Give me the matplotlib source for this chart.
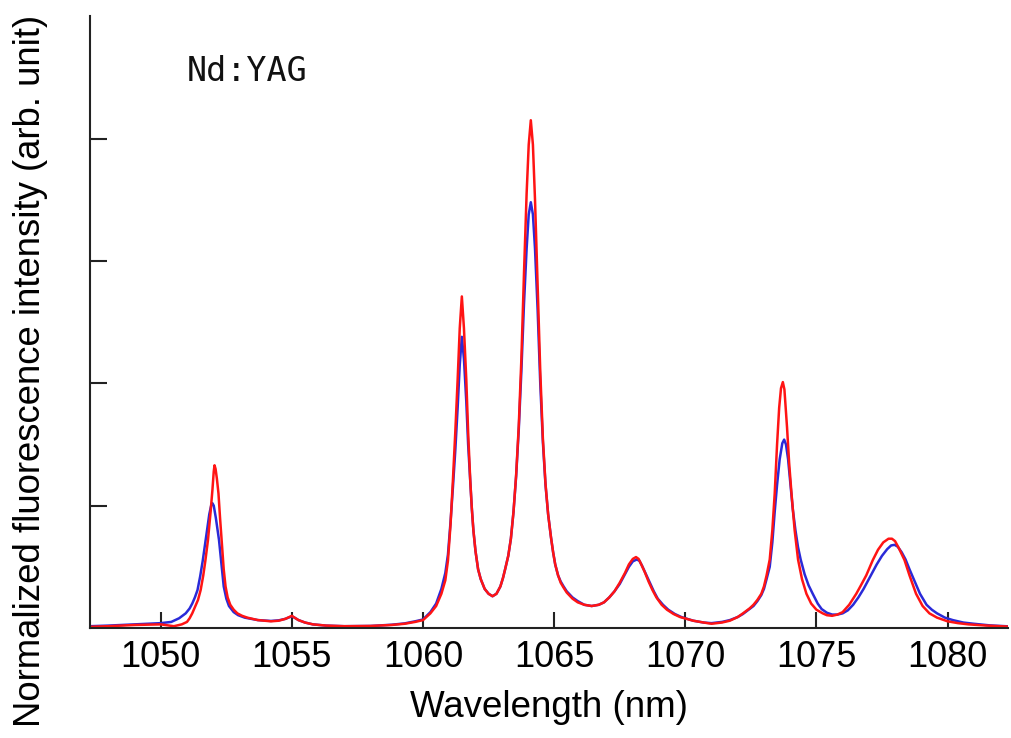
import matplotlib
matplotlib.use('Agg')
import matplotlib.pyplot as plt

# fluorescence spectra as (wavelength nm, normalized intensity)
redSpectrum = [
    (1047.3, 0.01), (1048.0, 0.015), (1049.0, 0.025), (1050.0, 0.03), (1050.5, 0.015),
    (1050.8, 0.03), (1051.0, 0.05), (1051.1, 0.08), (1051.2, 0.12), (1051.3, 0.17),
    (1051.42, 0.23), (1051.52, 0.31), (1051.62, 0.43), (1051.7, 0.55), (1051.8, 0.72),
    (1051.9, 0.95), (1051.97, 1.13), (1052.02, 1.28), (1052.05, 1.33), (1052.09, 1.3),
    (1052.14, 1.22), (1052.2, 1.1), (1052.26, 0.9), (1052.32, 0.72), (1052.4, 0.48),
    (1052.47, 0.34), (1052.55, 0.25), (1052.65, 0.19), (1052.78, 0.15), (1052.92, 0.12),
    (1053.1, 0.1), (1053.3, 0.085), (1053.7, 0.065), (1054.2, 0.055), (1054.5, 0.06),
    (1054.75, 0.075), (1054.9, 0.09), (1055.0, 0.10), (1055.1, 0.085), (1055.25, 0.065),
    (1055.5, 0.045), (1055.8, 0.03), (1056.3, 0.02), (1057.0, 0.015), (1058.0, 0.017),
    (1058.8, 0.025), (1059.3, 0.035), (1059.7, 0.05), (1060.0, 0.065), (1060.28, 0.12),
    (1060.5, 0.18), (1060.7, 0.28), (1060.85, 0.39), (1060.95, 0.55), (1061.05, 0.85),
    (1061.14, 1.21), (1061.23, 1.6), (1061.32, 2.03), (1061.4, 2.45), (1061.48, 2.71),
    (1061.56, 2.45), (1061.65, 2.03), (1061.72, 1.6), (1061.8, 1.21), (1061.86, 0.98),
    (1061.92, 0.8), (1062.0, 0.63), (1062.1, 0.48), (1062.2, 0.4), (1062.35, 0.32),
    (1062.5, 0.28), (1062.65, 0.26), (1062.8, 0.28), (1062.95, 0.34), (1063.05, 0.41),
    (1063.13, 0.48), (1063.25, 0.59), (1063.35, 0.73), (1063.45, 0.95), (1063.55, 1.25),
    (1063.65, 1.65), (1063.75, 2.2), (1063.85, 2.9), (1063.95, 3.55), (1064.03, 3.95),
    (1064.11, 4.15), (1064.19, 3.95), (1064.27, 3.5), (1064.37, 2.8), (1064.47, 2.1),
    (1064.57, 1.55), (1064.67, 1.18), (1064.77, 0.93), (1064.88, 0.74), (1064.96, 0.62),
    (1065.04, 0.52), (1065.15, 0.43), (1065.25, 0.37), (1065.36, 0.33),
    (1065.48, 0.29), (1065.7, 0.24), (1065.9, 0.21), (1066.15, 0.19), (1066.43, 0.18),
    (1066.7, 0.19), (1066.9, 0.21), (1067.1, 0.25), (1067.3, 0.3), (1067.5, 0.37),
    (1067.7, 0.45), (1067.85, 0.52), (1068.0, 0.565), (1068.12, 0.58), (1068.22, 0.565),
    (1068.3, 0.53), (1068.45, 0.46), (1068.6, 0.38), (1068.75, 0.31), (1068.9, 0.25),
    (1069.1, 0.19), (1069.3, 0.15), (1069.55, 0.115), (1069.8, 0.09), (1070.3, 0.06),
    (1070.7, 0.045), (1071.0, 0.035), (1071.4, 0.045), (1071.7, 0.06), (1072.0, 0.09),
    (1072.2, 0.12), (1072.45, 0.16), (1072.6, 0.19), (1072.75, 0.23), (1072.9, 0.28),
    (1073.0, 0.34), (1073.1, 0.43), (1073.22, 0.56), (1073.32, 0.8), (1073.41, 1.10),
    (1073.5, 1.5), (1073.58, 1.8), (1073.65, 1.96), (1073.72, 2.01), (1073.78, 1.95),
    (1073.88, 1.64), (1073.96, 1.35), (1074.05, 1.10), (1074.17, 0.8), (1074.3, 0.56),
    (1074.45, 0.4), (1074.62, 0.28), (1074.8, 0.2), (1075.0, 0.15), (1075.24, 0.12),
    (1075.4, 0.105), (1075.6, 0.10), (1075.8, 0.11), (1076.0, 0.13), (1076.25, 0.19),
    (1076.52, 0.28), (1076.7, 0.35), (1076.9, 0.43), (1077.15, 0.555), (1077.35, 0.64),
    (1077.55, 0.7), (1077.75, 0.73), (1077.88, 0.73), (1078.0, 0.71), (1078.15, 0.65),
    (1078.36, 0.555), (1078.55, 0.43), (1078.8, 0.28), (1079.05, 0.18), (1079.31, 0.12),
    (1079.6, 0.085), (1080.0, 0.055), (1080.4, 0.04), (1080.8, 0.03), (1081.5, 0.02),
    (1082.3, 0.012),
]

blueSpectrum = [
    (1047.3, 0.015), (1048.0, 0.02), (1049.0, 0.03), (1050.0, 0.04), (1050.4, 0.05),
    (1050.7, 0.08), (1050.95, 0.12), (1051.1, 0.16), (1051.2, 0.2), (1051.3, 0.25),
    (1051.4, 0.31), (1051.5, 0.42), (1051.6, 0.55), (1051.71, 0.72), (1051.79, 0.85),
    (1051.85, 0.93), (1051.92, 1.0), (1051.97, 1.02), (1052.02, 1.0), (1052.1, 0.9),
    (1052.16, 0.81), (1052.22, 0.72), (1052.3, 0.55), (1052.4, 0.34), (1052.5, 0.24),
    (1052.6, 0.18), (1052.78, 0.13), (1052.95, 0.105), (1053.2, 0.085), (1053.7, 0.065),
    (1054.2, 0.058), (1054.5, 0.063), (1054.75, 0.075), (1054.9, 0.088), (1055.0, 0.095),
    (1055.1, 0.085), (1055.25, 0.065), (1055.5, 0.045), (1055.8, 0.03), (1056.3, 0.02),
    (1057.0, 0.015), (1058.0, 0.017), (1058.8, 0.027), (1059.3, 0.038), (1059.7, 0.055),
    (1060.0, 0.07), (1060.28, 0.13), (1060.5, 0.2), (1060.7, 0.32), (1060.85, 0.45),
    (1060.95, 0.6), (1061.05, 0.87), (1061.14, 1.15), (1061.23, 1.45), (1061.32, 1.8),
    (1061.4, 2.15), (1061.48, 2.38), (1061.56, 2.2), (1061.65, 1.85), (1061.72, 1.5),
    (1061.8, 1.2), (1061.86, 0.98), (1061.92, 0.8), (1062.0, 0.63), (1062.1, 0.48),
    (1062.2, 0.4), (1062.35, 0.32), (1062.5, 0.28), (1062.65, 0.26), (1062.8, 0.28),
    (1062.95, 0.34), (1063.05, 0.41), (1063.13, 0.48), (1063.25, 0.59), (1063.35, 0.73),
    (1063.45, 0.95), (1063.55, 1.24), (1063.65, 1.62), (1063.75, 2.1), (1063.85, 2.65),
    (1063.95, 3.1), (1064.03, 3.38), (1064.11, 3.48), (1064.19, 3.38), (1064.27, 3.1),
    (1064.37, 2.6), (1064.47, 2.0), (1064.57, 1.52), (1064.67, 1.17), (1064.77, 0.93),
    (1064.88, 0.74), (1064.96, 0.62), (1065.04, 0.52), (1065.15, 0.43), (1065.25, 0.38),
    (1065.36, 0.34), (1065.48, 0.3), (1065.7, 0.25), (1065.9, 0.22), (1066.15, 0.19),
    (1066.43, 0.18), (1066.7, 0.19), (1066.9, 0.21), (1067.1, 0.25), (1067.3, 0.3),
    (1067.5, 0.36), (1067.7, 0.44), (1067.85, 0.5), (1068.0, 0.545), (1068.15, 0.56),
    (1068.25, 0.55), (1068.35, 0.51), (1068.5, 0.44), (1068.65, 0.37), (1068.8, 0.3),
    (1068.95, 0.24), (1069.15, 0.19), (1069.35, 0.15), (1069.6, 0.115), (1069.85, 0.09),
    (1070.3, 0.06), (1070.7, 0.045), (1071.0, 0.04), (1071.4, 0.05), (1071.7, 0.065),
    (1072.0, 0.09), (1072.2, 0.115), (1072.45, 0.155), (1072.6, 0.18), (1072.75, 0.22),
    (1072.9, 0.27), (1073.0, 0.32), (1073.1, 0.4), (1073.22, 0.5), (1073.32, 0.7),
    (1073.41, 0.95), (1073.5, 1.17), (1073.6, 1.38), (1073.7, 1.51), (1073.77, 1.54),
    (1073.84, 1.5), (1073.92, 1.38), (1074.0, 1.2), (1074.1, 0.97), (1074.2, 0.8),
    (1074.3, 0.66), (1074.4, 0.56), (1074.55, 0.44), (1074.7, 0.35), (1074.86, 0.28),
    (1075.05, 0.2), (1075.2, 0.155), (1075.4, 0.125), (1075.6, 0.11), (1075.8, 0.11),
    (1076.0, 0.12), (1076.2, 0.145), (1076.4, 0.19), (1076.6, 0.25), (1076.8, 0.32),
    (1077.0, 0.4), (1077.15, 0.46), (1077.3, 0.52), (1077.5, 0.59), (1077.7, 0.645),
    (1077.85, 0.675), (1077.98, 0.68), (1078.1, 0.665), (1078.25, 0.62), (1078.4, 0.56),
    (1078.55, 0.48), (1078.75, 0.38), (1078.95, 0.28), (1079.2, 0.19), (1079.4, 0.15),
    (1079.6, 0.12), (1079.9, 0.085), (1080.2, 0.065), (1080.6, 0.045), (1081.0, 0.035),
    (1081.6, 0.022), (1082.3, 0.014),
]

xTicks = [1050, 1055, 1060, 1065, 1070, 1075, 1080]
yTicks = [1, 2, 3, 4]

redWavelength = [p[0] for p in redSpectrum]
redIntensity = [p[1] for p in redSpectrum]
blueWavelength = [p[0] for p in blueSpectrum]
blueIntensity = [p[1] for p in blueSpectrum]

plt.rcParams['font.family'] = ['Liberation Sans', 'DejaVu Sans']

fig = plt.figure(figsize=(10.12, 7.38), dpi=100)
ax = fig.add_axes([0.0889, 0.149, 0.907, 0.829])

ax.plot(blueWavelength, blueIntensity, color='#2a2ad8', linewidth=1.8, solid_joinstyle='round')
ax.plot(redWavelength, redIntensity, color='#ff1414', linewidth=1.8, solid_joinstyle='round')

ax.set_xlim(1047.3, 1082.3)
ax.set_ylim(0, 5.0)
ax.set_xticks(xTicks)
ax.set_xticklabels([str(t) for t in xTicks])
ax.set_yticks(yTicks)
ax.set_yticklabels([])

ax.spines['top'].set_visible(False)
ax.spines['right'].set_visible(False)
for side in ['left', 'bottom']:
    ax.spines[side].set_linewidth(1.5)
    ax.spines[side].set_color('#222222')

ax.tick_params(axis='x', direction='in', length=11.5, width=1.5, color='#222222',
               labelsize=26, pad=8.5)
ax.tick_params(axis='y', direction='in', length=12, width=1.5, color='#222222')

ax.set_xlabel('Wavelength (nm)', fontsize=26.5, labelpad=11)
fig.text(0.030, 0.497, 'Normalized fluorescence intensity (arb. unit)', fontsize=26.3,
         rotation=90, ha='center', va='center')

ax.text(1050.99, 4.47, 'Nd:YAG', fontsize=24, family='DejaVu Sans Mono',
        ha='left', va='baseline', color='#111111')

fig.savefig('out.png', dpi=100)
